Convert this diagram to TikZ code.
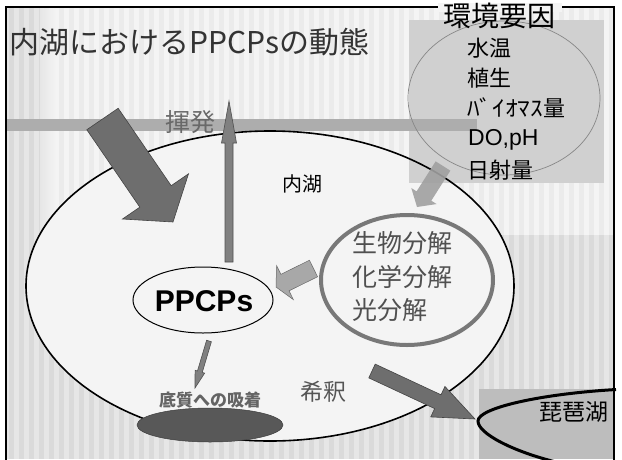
\documentclass[tikz,border=0pt]{standalone}
\usepackage{fontspec}
\setmainfont{Noto Sans CJK JP}
\newfontfamily\arialfam{Liberation Sans}
\usetikzlibrary{calc,shapes.geometric}
\definecolor{bgdark}{HTML}{E6E6E6}
\definecolor{bgdarks}{HTML}{DADADA}
\definecolor{bglight}{HTML}{F4F4F4}
\definecolor{bglights}{HTML}{EBEBEB}
\definecolor{envbox}{HTML}{D0D0D0}
\definecolor{bandc}{HTML}{ADADAD}
\definecolor{lakefill}{HTML}{F4F4F4}
\definecolor{biwac}{HTML}{BDBDBD}
\newcommand\blockarr[6]{%
  \coordinate (#1h) at ($(#2)!#5!(#1)$);
  \path[#6] ($(#1)!#3!90:(#2)$) -- ($(#1h)!#3!90:(#2)$) -- ($(#1h)!#4!90:(#2)$) -- (#2)
    -- ($(#1h)!#4!-90:(#2)$) -- ($(#1h)!#3!-90:(#2)$) -- ($(#1)!#3!-90:(#2)$) -- cycle;}
\tikzset{
  bigarr/.style={fill={rgb,255:red,110;green,110;blue,110}, draw={rgb,255:red,68;green,68;blue,68}, line width=0.6pt},
  lightarr/.style={fill={rgb,255:red,168;green,168;blue,168}, draw={rgb,255:red,105;green,105;blue,105}, line width=0.5pt},
  envarr/.style={fill={rgb,255:red,160;green,160;blue,160}, fill opacity=0.9},
  uparr/.style={fill={rgb,255:red,128;green,128;blue,128}, draw={rgb,255:red,80;green,80;blue,80}, line width=0.6pt},
  lbl/.style={inner sep=0pt, anchor=west},
  envitem/.style={lbl, font=\fontsize{22}{22}\selectfont},
}
\begin{document}
\begin{tikzpicture}[x=1pt,y=-1pt]
\useasboundingbox (0,0) rectangle (622,459);
\fill[white] (0,0) rectangle (622,459);
% background
\fill[bgdark] (6,7) rectangle (614,459);
\foreach \i in {0,...,60} \fill[bgdarks] ({9+\i*10},7) rectangle ++(5,452);
\fill[bglight] (52,7) rectangle (614,235);
\foreach \i in {0,...,55} \fill[bglights] ({59+\i*10},7) rectangle ++(5,228);
\shade[left color=bgdark, right color=bglight] (40,7) rectangle (56,235);
% environment box
\fill[envbox] (409,20) rectangle (604,183);
% band
\fill[bandc] (7,119) rectangle (477,131);
% lake
\fill[lakefill] (270,286) ellipse [x radius=244pt, y radius=155pt];
\begin{scope}
  \clip (270,286) ellipse [x radius=244pt, y radius=155pt];
  \fill[envbox] (409,20) rectangle (604,183);
\end{scope}
\draw[line width=1.6pt] (270,286) ellipse [x radius=244pt, y radius=155pt];
% Biwa
\fill[biwac] (479,389) rectangle (614,459);
\draw[line width=3pt] (616,389.5) .. controls (540,394) and (478,408) .. (478,421)
   .. controls (478,434) and (515,452) .. (556,462);
% frame
\draw[line width=2pt] (6,470) -- (6,7) -- (614,7) -- (614,470);
\fill[bglight] (438,3) rectangle (562,12);
% environment ellipse
\node[ellipse, draw={rgb,255:red,135;green,135;blue,135}, line width=0.7pt, minimum width=192pt, minimum height=154pt, inner sep=0pt] (env) at (504,98) {};
\node[inner sep=0pt, font=\fontsize{28}{28}\selectfont] (envt) at (499,15.5) {環境要因};
\node[envitem] (e1) at (467,48) {水温};
\node[envitem] (e2) at (467,78) {植生};
\node[envitem] (e3) at (467,108) {\scalebox{1.15}[1]{ﾊﾞｲｵﾏｽ}量};
\node[lbl, font=\arialfam\fontsize{23}{23}\selectfont] (e4) at (468,140) {DO,pH};
\node[envitem] (e5) at (467,170) {日射量};
% title
\node[lbl, font=\fontsize{30}{30}\selectfont, text={rgb,255:red,51;green,51;blue,51}] (title) at (9,42) {内湖におけるPPCPsの動態};
\node[lbl, font=\fontsize{25}{25}\selectfont, text={rgb,255:red,105;green,105;blue,105}] (kihatsu) at (165,122) {揮発};
\node[inner sep=0pt, font=\fontsize{20}{20}\selectfont] (naiko) at (302,184) {内湖};
% degradation ellipse
\node[ellipse, draw={rgb,255:red,120;green,120;blue,120}, line width=4pt, minimum width=172pt, minimum height=130pt, inner sep=0pt] (deg) at (407,280) {};
\node[lbl, font=\fontsize{25}{25}\selectfont, text={rgb,255:red,80;green,80;blue,80}] (d1) at (352,243) {生物分解};
\node[lbl, font=\fontsize{25}{25}\selectfont, text={rgb,255:red,80;green,80;blue,80}] (d2) at (352,277) {化学分解};
\node[lbl, font=\fontsize{25}{25}\selectfont, text={rgb,255:red,80;green,80;blue,80}] (d3) at (352,310) {光分解};
% PPCPs
\node[ellipse, draw, line width=1pt, fill=lakefill, minimum width=140pt, minimum height=66pt, inner sep=0pt] (ppcps) at (203,300) {};
\node[inner sep=0pt, font=\arialfam\bfseries\fontsize{30}{30}\selectfont] (ppt) at (204,301) {PPCPs};
% sediment
\node[ellipse, fill={rgb,255:red,88;green,88;blue,88}, draw={rgb,255:red,60;green,60;blue,60}, line width=0.5pt, minimum width=146pt, minimum height=34pt, inner sep=0pt] (sed) at (210,425) {};
\node[inner sep=0pt, font=\bfseries\fontsize{17}{17}\selectfont, text={rgb,255:red,100;green,100;blue,100}] (sedt) at (210,400) {底質への吸着};
\node[lbl, font=\fontsize{23}{23}\selectfont, text={rgb,255:red,85;green,85;blue,85}] (kishaku) at (300,392) {希釈};
\node[lbl, font=\fontsize{23}{23}\selectfont] (biwa) at (539,412) {琵琶湖};
% arrows
\coordinate (a1t) at (102.5,119); \coordinate (a1h) at (173,222);
\blockarr{a1t}{a1h}{19pt}{40pt}{31pt}{bigarr}
\coordinate (a2t) at (229,262); \coordinate (a2h) at (229,101);
\blockarr{a2t}{a2h}{4pt}{7.5pt}{42pt}{uparr}
\coordinate (a3t) at (443,166); \coordinate (a3h) at (417,207);
\blockarr{a3t}{a3h}{8.7pt}{15pt}{13pt}{envarr}
\coordinate (a4t) at (313.5,268.5); \coordinate (a4h) at (276,287);
\blockarr{a4t}{a4h}{9.2pt}{19pt}{10pt}{lightarr}
\coordinate (a5t) at (372,371); \coordinate (a5h) at (475,419);
\blockarr{a5t}{a5h}{7.6pt}{16.8pt}{41pt}{bigarr}
\coordinate (a6t) at (209,341); \coordinate (a6h) at (195,388);
\blockarr{a6t}{a6h}{2.5pt}{5pt}{17pt}{uparr}
\end{tikzpicture}
\end{document}
